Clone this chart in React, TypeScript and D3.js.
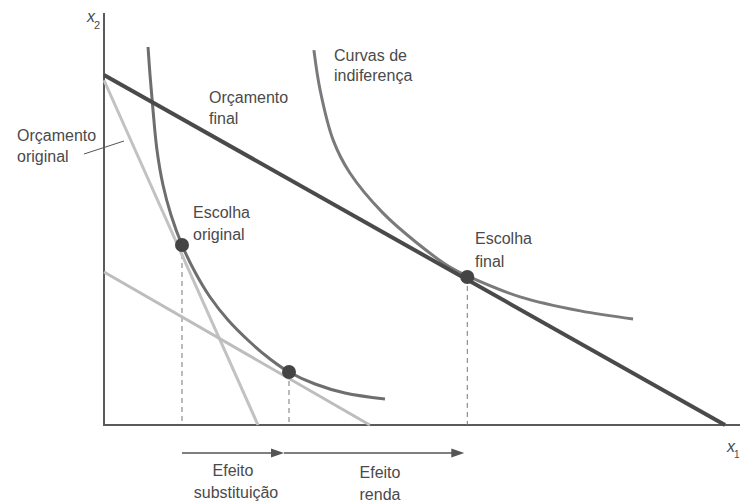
import React from "react";
import * as d3 from "d3";

// Data (model units: x 0..10, y 0..10)
const finalBudget: [number, number][] = [[0, 10], [10, 0]];
const originalBudget: [number, number][] = [[0, 9.85], [2.48, 0]];
const compensatedBudget: [number, number][] = [[0, 4.37], [4.28, 0]];

const curveLow: [number, number][] = [
  [0.709, 10.8], [0.741, 10.0], [0.789, 9.0], [0.853, 7.857], [0.95, 6.857],
  [1.079, 6.0], [1.256, 5.143], [1.465, 4.371], [1.707, 3.657], [1.997, 3.0],
  [2.351, 2.371], [2.673, 1.886], [2.979, 1.514], [3.398, 1.171], [3.881, 0.914],
  [4.525, 0.743],
];
const curveHigh: [number, number][] = [
  [3.38, 10.71], [3.48, 9.57], [3.69, 8.14], [3.96, 7.2], [4.49, 6.06],
  [5.04, 5.2], [5.57, 4.51], [5.85, 4.26], [6.7, 3.66], [7.67, 3.26], [8.52, 3.03],
];

const pointOriginal: [number, number] = [1.256, 5.143];
const pointSubst: [number, number] = [2.979, 1.514];
const pointFinal: [number, number] = [5.85, 4.23];

const W = 740;
const H = 504;

export default function App() {
  const x = d3.scaleLinear().domain([0, 10]).range([104, 725]);
  const y = d3.scaleLinear().domain([0, 10]).range([425, 75]);
  const line = d3.line<[number, number]>().x((d) => x(d[0])).y((d) => y(d[1]));
  const smooth = d3
    .line<[number, number]>()
    .x((d) => x(d[0]))
    .y((d) => y(d[1]))
    .curve(d3.curveCatmullRom.alpha(0.5));

  const textColor = "#4a4a4a";
  const font = "'Liberation Sans', Arial, sans-serif";
  const x0 = x(0);
  const y0 = y(0);
  const arrowY = 453;

  const arrow = (from: number, to: number) => (
    <g>
      <line x1={from} y1={arrowY} x2={to - 10} y2={arrowY} stroke="#555" strokeWidth={1.5} />
      <polygon points={`${to},${arrowY} ${to - 13},${arrowY - 4.5} ${to - 13},${arrowY + 4.5}`} fill="#555" />
    </g>
  );

  return (
    <svg width={W} height={H} style={{ position: "absolute", left: 0, top: 0, background: "#fff" }}>
      <rect width={W} height={H} fill="#fff" />
      {/* axes */}
      <line x1={x0} y1={13} x2={x0} y2={y0 + 1} stroke="#5a5a5a" strokeWidth={2} />
      <line x1={x0 - 1} y1={y0} x2={740} y2={y0} stroke="#5a5a5a" strokeWidth={2} />

      {/* dashed guides */}
      {[pointOriginal, pointSubst, pointFinal].map((p, i) => (
        <line key={i} x1={x(p[0])} y1={y(p[1])} x2={x(p[0])} y2={y0} stroke="#777" strokeWidth={1} strokeDasharray="5,4" />
      ))}

      {/* light budget lines */}
      <path d={line(originalBudget) || ""} fill="none" stroke="#c2c2c2" strokeWidth={3} />
      <path d={line(compensatedBudget) || ""} fill="none" stroke="#bdbdbd" strokeWidth={3} />

      {/* indifference curves */}
      <path d={smooth(curveLow) || ""} fill="none" stroke="#6e6e6e" strokeWidth={3} />
      <path d={smooth(curveHigh) || ""} fill="none" stroke="#7a7a7a" strokeWidth={3} />

      {/* final budget */}
      <path d={line(finalBudget) || ""} fill="none" stroke="#4a4a4a" strokeWidth={4} />

      {/* points */}
      {[pointOriginal, pointSubst, pointFinal].map((p, i) => (
        <circle key={i} cx={x(p[0])} cy={y(p[1])} r={7} fill="#444" />
      ))}

      {/* leader for original budget */}
      <line x1={84} y1={154} x2={124} y2={141} stroke="#555" strokeWidth={1} />

      {/* arrows */}
      {arrow(x(pointOriginal[0]), x(pointSubst[0]) - 5)}
      {arrow(x(pointSubst[0]) - 5, x(pointFinal[0]) - 3)}

      <g fill={textColor} fontFamily={font} fontSize={16}>
        <text x={87} y={22} fontStyle="italic">x</text>
        <text x={94} y={29} fontSize={11}>2</text>
        <text x={727} y={452} fontStyle="italic">x</text>
        <text x={734} y={458} fontSize={10}>1</text>

        <text x={334} y={61}>Curvas de</text>
        <text x={334} y={81}>indiferença</text>

        <text x={209} y={103}>Orçamento</text>
        <text x={209} y={124}>final</text>

        <text x={17} y={141}>Orçamento</text>
        <text x={17} y={162}>original</text>

        <text x={193} y={218}>Escolha</text>
        <text x={193} y={240}>original</text>

        <text x={475} y={244}>Escolha</text>
        <text x={475} y={267}>final</text>

        <text x={233} y={476} textAnchor="middle">Efeito</text>
        <text x={236} y={498} textAnchor="middle">substituição</text>
        <text x={380} y={478} textAnchor="middle">Efeito</text>
        <text x={380} y={500} textAnchor="middle">renda</text>
      </g>
    </svg>
  );
}
